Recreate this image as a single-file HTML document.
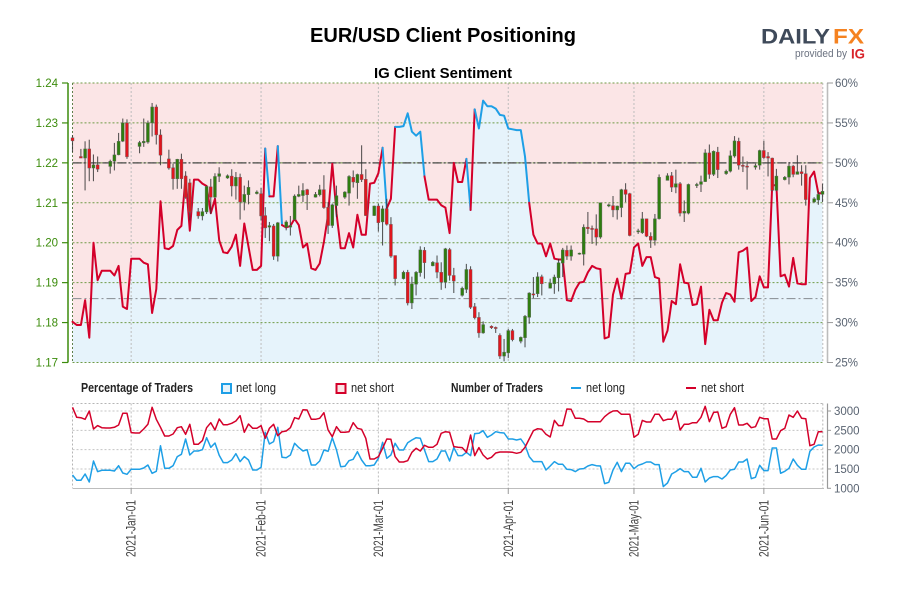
<!DOCTYPE html>
<html lang="en">
<head>
<meta charset="utf-8">
<title>EUR/USD Client Positioning</title>
<style>
html,body{margin:0;padding:0;background:#fff;width:900px;height:600px;overflow:hidden}
svg{display:block;font-family:"Liberation Sans",sans-serif}
</style>
</head>
<body>
<svg id="chart" xmlns="http://www.w3.org/2000/svg" width="900" height="600" viewBox="0 0 900 600">
  <rect x="0" y="0" width="900" height="600" fill="#ffffff"/>
  <text x="310" y="42" font-size="20" font-weight="bold" fill="#000" textLength="266" lengthAdjust="spacingAndGlyphs">EUR/USD Client Positioning</text>
  <text x="374" y="78" font-size="15" font-weight="bold" fill="#000" textLength="138" lengthAdjust="spacingAndGlyphs">IG Client Sentiment</text>

  <g>
    <text x="761" y="43.5" font-size="21.5" font-weight="bold" fill="#3f4a5a" textLength="69" lengthAdjust="spacingAndGlyphs">DAILY</text>
    <text x="833" y="43.5" font-size="21.5" font-weight="bold" fill="#f58220" textLength="31" lengthAdjust="spacingAndGlyphs">FX</text>
    <text x="795" y="57" font-size="11" fill="#6b7280" textLength="52" lengthAdjust="spacingAndGlyphs">provided by</text>
    <text x="851" y="58.5" font-size="13.5" font-weight="bold" fill="#d8232a" textLength="14" lengthAdjust="spacingAndGlyphs">IG</text>
  </g>

  <g id="main-panel"></g>
  <g id="lower-panel"></g>

  <g font-size="12.5" fill="#222">
    <text x="81" y="392" font-weight="bold" textLength="112" lengthAdjust="spacingAndGlyphs">Percentage of Traders</text>
    <rect x="222" y="384" width="9" height="9" fill="#e6f3fb" stroke="#1e9fe6" stroke-width="2"/>
    <text x="236" y="392" textLength="40" lengthAdjust="spacingAndGlyphs">net long</text>
    <rect x="336.5" y="384" width="9" height="9" fill="#fbe5e6" stroke="#d4002a" stroke-width="2"/>
    <text x="351" y="392" textLength="43" lengthAdjust="spacingAndGlyphs">net short</text>
    <text x="451" y="392" font-weight="bold" textLength="92" lengthAdjust="spacingAndGlyphs">Number of Traders</text>
    <line x1="571" y1="388" x2="581" y2="388" stroke="#1e9fe6" stroke-width="2"/>
    <text x="586" y="392" textLength="39" lengthAdjust="spacingAndGlyphs">net long</text>
    <line x1="686" y1="388" x2="696" y2="388" stroke="#d4002a" stroke-width="2"/>
    <text x="701" y="392" textLength="43" lengthAdjust="spacingAndGlyphs">net short</text>
  </g>
</svg>
<script>
/* ---- data: one value per calendar day starting 2020-12-18 ---- */
const pctLong = [
30.1,29.7,29.7,32.8,28.1,40.0,35.3,36.5,36.5,36.5,
35.9,37.1,32.0,31.7,38.0,38.0,38.0,37.5,37.3,31.2,
34.2,45.2,39.3,39.2,39.6,41.6,42.1,48.3,41.5,47.9,
47.9,47.4,47.1,43.7,45.5,40.3,38.8,38.7,39.5,41.0,
37.1,42.4,39.5,36.6,36.6,37.1,51.8,45.8,45.8,52.1,
42.2,41.9,42.1,43.0,42.2,39.4,39.9,36.8,36.6,37.4,
40.1,43.5,49.9,43.7,39.3,39.3,41.2,39.4,43.5,41.0,
41.0,47.4,47.5,48.7,51.9,44.3,45.5,54.5,54.5,54.6,
56.2,53.9,53.4,53.9,48.3,45.4,45.4,45.4,44.7,44.4,
41.2,50.0,47.6,47.6,50.5,44.1,56.7,54.3,57.8,57.1,
57.1,56.8,56.0,55.9,54.3,54.2,54.1,54.1,50.8,45.0,
41.0,39.9,39.9,38.3,39.9,38.0,37.9,37.9,32.8,32.7,
34.1,35.0,35.1,36.3,37.1,36.8,36.7,28.0,28.2,33.5,
35.5,33.0,36.1,36.2,39.4,39.9,37.1,38.2,38.2,35.7,
35.5,27.6,29.0,32.7,32.3,37.3,35.0,34.9,32.2,32.3,
34.5,27.3,31.6,30.3,30.3,32.5,33.7,33.5,32.6,38.8,
39.0,39.4,32.7,33.2,35.8,34.4,34.4,47.2,47.2,35.8,
36.0,34.5,38.1,34.9,34.8,34.8,48.1,48.9,46.2,46.2];

const netLong = [
1345,1207,1207,1371,1164,1707,1431,1465,1465,1465,
1448,1586,1397,1362,1491,1491,1491,1526,1603,1388,
1440,2103,1517,1517,1586,1819,1879,2276,1862,1965,
1965,2000,2310,2060,2172,1853,1664,1664,1733,1896,
1690,1819,1733,1474,1474,1543,2448,2146,2207,2577,
1802,1793,1862,2164,2052,1965,2000,1603,1603,1707,
1991,1957,2310,1991,1560,1569,1715,1750,1948,1733,
1586,1586,1603,1776,2190,1776,1862,2164,1991,1991,
2181,2250,2310,2293,1991,1690,1690,1759,1965,1965,
1707,2052,1845,1845,1931,1845,2414,2422,2491,2319,
2379,2465,2440,2431,2276,2276,2250,2276,2121,1819,
1690,1690,1690,1474,1578,1690,1621,1621,1491,1483,
1431,1500,1509,1578,1612,1586,1578,1121,1155,1474,
1672,1431,1647,1647,1509,1595,1629,1681,1681,1612,
1612,1043,1138,1371,1431,1509,1431,1431,1284,1284,
1517,1164,1267,1302,1302,1241,1328,1474,1491,1681,
1681,1759,1250,1284,1595,1457,1457,2043,2043,1388,
1440,1517,1759,1595,1491,1491,1957,2069,2121,2112];

const netShort = [
3095,2836,2827,2784,3000,2534,2621,2569,2560,2560,
2577,2638,2940,2940,2440,2431,2431,2534,2655,3095,
2784,2577,2353,2353,2405,2569,2595,2396,2655,2138,
2138,2233,2569,2698,2508,2793,2646,2646,2681,2741,
2879,2448,2664,2552,2552,2621,2293,2552,2655,2362,
2465,2483,2569,2827,2793,3034,3026,2784,2784,2810,
2957,2508,2336,2595,2448,2448,2465,2698,2552,2526,
2293,1759,1759,1819,2034,2276,2267,1819,1681,1681,
1715,1931,2034,1965,2112,2060,2060,2138,2422,2465,
2448,2078,2060,2052,1931,2379,1845,2052,1862,1759,
1802,1914,1940,1940,1940,1931,1905,1931,2060,2276,
2491,2543,2526,2396,2327,2758,2621,2621,3052,3043,
2810,2810,2793,2724,2724,2724,2724,2853,2940,3000,
3008,2914,2914,2914,2319,2396,2758,2715,2715,2914,
2914,2750,2784,2784,3000,2508,2655,2655,2698,2698,
2836,3121,2724,2965,2974,2552,2595,2914,3086,2638,
2638,2681,2569,2595,2836,2802,2802,2276,2276,2491,
2552,2896,2836,3000,2810,2802,2103,2138,2465,2465];

const candleDays = [
0,2,3,4,5,6, 9,10,11,12,13, 16,17,18,19,20,21, 23,24,25,26,27,28, 30,31,32,33,34,35,
37,38,39,40,41,42, 44,45,46,47,48,49, 51,52,53,54,55,56, 58,59,60,61,62,63,
65,66,67,68,69,70, 72,73,74,75,76,77, 79,80,81,82,83,84, 86,87,88,89,90,91,
93,94,95,96,97,98, 100,101,102,103,104,105, 107,108,109,110,111,112, 114,115,116,117,118,119,
121,122,123,124,125,126, 128,129,130,131,132,133, 135,136,137,138,139,140,
142,143,144,145,146,147, 149,150,151,152,153,154, 156,157,158,159,160,161,
163,164,165,166,167,168, 170,171,172,173,174,175, 177,178,179];

const opens = [
1.2263,1.2216,1.2212,1.2235,1.2187,1.2195, 1.2191,1.2204,1.2220,1.2254,1.2300,
1.2241,1.2250,1.2252,1.2300,1.2340,1.2270, 1.2210,1.2188,1.2160,1.2209,1.2167,1.2150,
1.2078,1.2067,1.2077,1.2140,1.2114,1.2166, 1.2162,1.2167,1.2142,1.2164,1.2102,1.2120,
1.2123,1.2123,1.2068,1.2039,1.2042,1.1966, 1.2039,1.2039,1.2058,1.2116,1.2118,1.2133,
1.2114,1.2120,1.2133,1.2089,1.2043,1.2093, 1.2114,1.2124,1.2164,1.2150,1.2171,1.2159,
1.2068,1.2092,1.2052,1.2085,1.2046,1.1968, 1.1910,1.1926,1.1849,1.1896,1.1925,1.1981,
1.1942,1.1950,1.1926,1.1901,1.1983,1.1918, 1.1868,1.1883,1.1933,1.1840,1.1813,1.1774,
1.1791,1.1788,1.1768,1.1716,1.1724,1.1780, 1.1753,1.1762,1.1813,1.1872,1.1872,1.1915,
1.1886,1.1897,1.1912,1.1949,1.1981,1.1966, 1.1971,1.1971,1.2039,1.2036,1.2035,1.2014,
1.2092,1.2093,1.2082,1.2088,1.2133,1.2123, 1.2027,1.2025,1.2060,1.2016,1.2006,1.2060,
1.2156,1.2168,1.2139,1.2148,1.2074,1.2074, 1.2143,1.2146,1.2153,1.2225,1.2171,1.2227,
1.2173,1.2179,1.2217,1.2254,1.2194,1.2192, 1.2189,1.2194,1.2231,1.2216,1.2212,1.2131,
1.2158,1.2164,1.2192,1.2171,1.2178,1.2173, 1.2102,1.2107,1.2121];

const highs = [
1.2269,1.2235,1.2254,1.2258,1.2221,1.2216, 1.2208,1.2250,1.2275,1.2311,1.2309,
1.2255,1.2311,1.2306,1.2350,1.2346,1.2284, 1.2233,1.2198,1.2210,1.2223,1.2179,1.2160,
1.2087,1.2087,1.2143,1.2160,1.2174,1.2189, 1.2171,1.2184,1.2177,1.2173,1.2143,1.2156,
1.2131,1.2137,1.2089,1.2052,1.2047,1.2052, 1.2056,1.2067,1.2121,1.2143,1.2149,1.2135,
1.2127,1.2145,1.2169,1.2102,1.2098,1.2143, 1.2129,1.2169,1.2181,1.2173,1.2244,1.2184,
1.2093,1.2098,1.2093,1.2110,1.2064,1.1968, 1.1930,1.1932,1.1915,1.1929,1.1991,1.1989,
1.1954,1.1968,1.1951,1.1987,1.1987,1.1937, 1.1890,1.1947,1.1941,1.1849,1.1826,1.1803,
1.1793,1.1790,1.1773,1.1759,1.1784,1.1784, 1.1765,1.1819,1.1876,1.1914,1.1926,1.1920,
1.1910,1.1920,1.1960,1.1987,1.1993,1.1993, 1.1975,1.2046,1.2077,1.2043,1.2071,1.2100,
1.2098,1.2117,1.2093,1.2135,1.2149,1.2125, 1.2035,1.2077,1.2060,1.2026,1.2072,1.2171,
1.2174,1.2177,1.2183,1.2152,1.2106,1.2148, 1.2150,1.2168,1.2234,1.2246,1.2231,1.2240,
1.2183,1.2231,1.2267,1.2263,1.2216,1.2204, 1.2198,1.2233,1.2255,1.2227,1.2213,1.2185,
1.2167,1.2202,1.2195,1.2219,1.2194,1.2194, 1.2114,1.2129,1.2148];

const lows = [
1.2227,1.2212,1.2131,1.2154,1.2154,1.2177, 1.2173,1.2181,1.2219,1.2252,1.2210,
1.2224,1.2240,1.2248,1.2266,1.2246,1.2194, 1.2183,1.2133,1.2135,1.2135,1.2110,1.2056,
1.2060,1.2056,1.2072,1.2072,1.2110,1.2152, 1.2160,1.2116,1.2108,1.2058,1.2081,1.2096,
1.2121,1.2056,1.2012,1.2004,1.1957,1.1953, 1.2031,1.2018,1.2056,1.2114,1.2102,1.2082,
1.2113,1.2116,1.2085,1.2022,1.2037,1.2064, 1.2110,1.2093,1.2138,1.2110,1.2152,1.2067,
1.2067,1.2028,1.1993,1.2043,1.1962,1.1893, 1.1908,1.1843,1.1834,1.1868,1.1915,1.1910,
1.1941,1.1911,1.1882,1.1886,1.1905,1.1874, 1.1865,1.1874,1.1834,1.1808,1.1762,1.1772,
1.1784,1.1774,1.1709,1.1703,1.1711,1.1753, 1.1748,1.1738,1.1797,1.1861,1.1864,1.1868,
1.1885,1.1872,1.1878,1.1914,1.1957,1.1955, 1.1970,1.1943,1.2022,1.1997,1.1993,1.2010,
1.2089,1.2064,1.2058,1.2064,1.2102,1.2016, 1.2022,1.2022,1.2014,1.1987,1.1993,1.2058,
1.2156,1.2127,1.2124,1.2066,1.2052,1.2071, 1.2137,1.2127,1.2152,1.2160,1.2167,1.2162,
1.2170,1.2176,1.2213,1.2183,1.2177,1.2133, 1.2183,1.2183,1.2210,1.2166,1.2129,1.2129,
1.2156,1.2146,1.2164,1.2171,1.2143,1.2093, 1.2100,1.2095,1.2102];

const closes = [
1.2255,1.2212,1.2235,1.2187,1.2195,1.2184, 1.2204,1.2220,1.2254,1.2300,1.2215,
1.2251,1.2254,1.2300,1.2340,1.2270,1.2219, 1.2187,1.2160,1.2209,1.2160,1.2113,1.2077,
1.2067,1.2078,1.2141,1.2114,1.2166,1.2173, 1.2168,1.2142,1.2164,1.2102,1.2121,1.2139,
1.2127,1.2067,1.2037,1.2043,1.1966,1.2050, 1.2052,1.2043,1.2117,1.2121,1.2131,1.2120,
1.2121,1.2133,1.2088,1.2043,1.2095,1.2118, 1.2127,1.2166,1.2152,1.2171,1.2158,1.2068,
1.2092,1.2050,1.2085,1.2046,1.1966,1.1910, 1.1926,1.1849,1.1897,1.1926,1.1982,1.1950,
1.1951,1.1926,1.1901,1.1985,1.1918,1.1904, 1.1886,1.1933,1.1838,1.1812,1.1774,1.1795,
1.1787,1.1787,1.1716,1.1726,1.1780,1.1757, 1.1763,1.1816,1.1874,1.1869,1.1915,1.1897,
1.1899,1.1914,1.1950,1.1982,1.1966,1.1982, 1.1974,1.2039,1.2035,1.2035,1.2014,1.2100,
1.2095,1.2082,1.2092,1.2133,1.2121,1.2018, 1.2030,1.2060,1.2016,1.2006,1.2060,1.2164,
1.2168,1.2139,1.2148,1.2074,1.2079,1.2146, 1.2146,1.2153,1.2225,1.2171,1.2229,1.2183,
1.2179,1.2218,1.2255,1.2194,1.2191,1.2190, 1.2193,1.2231,1.2213,1.2212,1.2131,1.2167,
1.2164,1.2192,1.2171,1.2178,1.2173,1.2108, 1.2110,1.2121,1.2129];

const priceTicks = [1.24,1.23,1.22,1.21,1.20,1.19,1.18,1.17];
const pctTicks = [60,55,50,45,40,35,30,25];
const countTicks = [3000,2500,2000,1500,1000];
const tickLabels = ['2021-Jan-01','2021-Feb-01','2021-Mar-01','2021-Apr-01','2021-May-01','2021-Jun-01'];
const tickDays = [14,45,73,104,134,165];
const currentPrice = 1.186;
const neutralPct = 50;

/* ---- axis functions ---- */
const LEFT = 72.5, DAY = 4.19, TOP = 83, BOTTOM = 362.5, RIGHT = 822.5;
const xDay = d => LEFT + d * DAY;
const yPrice = p => TOP + (1.24 - p) * (BOTTOM - TOP) / 0.07;
const yPct = v => TOP + (60 - v) * (BOTTOM - TOP) / 35;
const yCount = v => 488.3 - (v - 1000) * 0.03865;

const NS = 'http://www.w3.org/2000/svg';
function mk(parent, tag, attrs) {
  const e = document.createElementNS(NS, tag);
  for (const k in attrs) e.setAttribute(k, attrs[k]);
  parent.appendChild(e);
  return e;
}
const main = document.getElementById('main-panel');
const lower = document.getElementById('lower-panel');

/* sentiment area fills */
const linePts = pctLong.map((v, i) => xDay(i).toFixed(1) + ',' + yPct(v).toFixed(1)).join(' L');
const pinkArea = mk(main, 'path', {d: 'M' + linePts + ' L' + RIGHT + ',' + TOP + ' L' + LEFT + ',' + TOP + ' Z', fill: '#fbe5e6'});


const blueArea = mk(main, 'path', {d: 'M' + linePts + ' L' + RIGHT + ',' + BOTTOM + ' L' + LEFT + ',' + BOTTOM + ' Z', fill: '#e6f3fb'});



/* vertical date grid, both panels */
tickDays.forEach(d => {
  const x = xDay(d);
  const v1 = mk(main, 'line', {x1: x, y1: TOP, x2: x, y2: BOTTOM, stroke: '#bdbdbd', 'stroke-width': 1, 'stroke-dasharray': '2 2'});
  
  
  const v2 = mk(lower, 'line', {x1: x, y1: 403.5, x2: x, y2: 488, stroke: '#bdbdbd', 'stroke-width': 1, 'stroke-dasharray': '2 2'});
  
  
});

/* horizontal price grid, left axis */
const leftAxis = mk(main, 'line', {x1: 68, y1: TOP, x2: 68, y2: BOTTOM, stroke: '#3c8c0c', 'stroke-width': 1.5});


priceTicks.forEach(p => {
  const y = yPrice(p);
  const g = mk(main, 'line', {x1: LEFT, y1: y, x2: RIGHT, y2: y, stroke: '#6f9a45', 'stroke-width': 1, 'stroke-dasharray': '2 2'});
  
  
  const t = mk(main, 'line', {x1: 62, y1: y, x2: 68, y2: y, stroke: '#3c8c0c', 'stroke-width': 1.2});
  
  
  const l = mk(main, 'text', {x: 58, y: y + 4, 'text-anchor': 'end', 'font-size': 11.5, fill: '#3c8c0c'});
  l.textContent = p.toFixed(2);
  
  
});

/* panel borders */
const leftBorder = mk(main, 'line', {x1: LEFT, y1: TOP, x2: LEFT, y2: BOTTOM, stroke: '#5f7f4a', 'stroke-width': 1, 'stroke-dasharray': '2 2'});


const rightBorder = mk(main, 'line', {x1: RIGHT + 0.3, y1: TOP, x2: RIGHT + 0.3, y2: BOTTOM, stroke: '#bdbdbd', 'stroke-width': 1, 'stroke-dasharray': '2 2'});



/* reference lines */
const neutralLine = mk(main, 'line', {x1: LEFT, y1: yPct(neutralPct), x2: RIGHT, y2: yPct(neutralPct), stroke: '#555', 'stroke-width': 1.5, 'stroke-dasharray': '9 2 2 2', opacity: 0.9});


const priceLine = mk(main, 'line', {x1: LEFT, y1: yPrice(currentPrice), x2: RIGHT, y2: yPrice(currentPrice), stroke: '#858b90', 'stroke-width': 1, 'stroke-dasharray': '9 3 2 3'});



/* right percent axis */
const rightAxis = mk(main, 'line', {x1: 827.5, y1: TOP, x2: 827.5, y2: BOTTOM, stroke: '#bcbcbc', 'stroke-width': 1.6});


pctTicks.forEach(v => {
  const y = yPct(v);
  const t = mk(main, 'line', {x1: 827, y1: y, x2: 833, y2: y, stroke: '#9a9a9a', 'stroke-width': 1});
  
  
  const l = mk(main, 'text', {x: 835, y: y + 4, 'font-size': 11.5, fill: '#5a6472'});
  l.textContent = v + '%';
  
  
});

/* sentiment line: a segment is blue when it starts above 50%, otherwise red */
function isLongSeg(i) { return pctLong[i] > neutralPct; }
let runStart = 0;
for (let i = 1; i < pctLong.length; i++) {
  if (i === pctLong.length - 1 || isLongSeg(i) !== isLongSeg(runStart)) {
    const pts = [];
    for (let j = runStart; j <= i; j++) pts.push(xDay(j).toFixed(1) + ',' + yPct(pctLong[j]).toFixed(1));
    const seg = mk(main, 'polyline', {points: pts.join(' '), fill: 'none', stroke: isLongSeg(runStart) ? '#1e9fe6' : '#d4002a', 'stroke-width': 2, 'stroke-linejoin': 'round', 'stroke-linecap': 'round'});
    
    
    runStart = i;
  }
}

/* candles */
candleDays.forEach((d, i) => {
  const x = xDay(d);
  const up = closes[i] >= opens[i];
  const wick = mk(main, 'line', {x1: x, y1: yPrice(highs[i]), x2: x, y2: yPrice(lows[i]), stroke: '#333', 'stroke-width': 1.1, opacity: 0.8});
  
  
  const top = yPrice(Math.max(opens[i], closes[i]));
  const bot = yPrice(Math.min(opens[i], closes[i]));
  const body = mk(main, 'rect', {x: x - 1.5, y: top, width: 3, height: Math.max(bot - top, 1.2), fill: up ? '#2f7d10' : '#e0161e', stroke: '#666', 'stroke-width': 0.4});
  
  
});

/* lower panel frame */
const lowTop = mk(lower, 'line', {x1: LEFT, y1: 403.5, x2: RIGHT, y2: 403.5, stroke: '#b5b5b5', 'stroke-width': 1, 'stroke-dasharray': '2 2'});


const lowLeft = mk(lower, 'line', {x1: LEFT, y1: 403.5, x2: LEFT, y2: 488, stroke: '#b5b5b5', 'stroke-width': 1, 'stroke-dasharray': '2 2'});


const lowRight = mk(lower, 'line', {x1: RIGHT + 0.3, y1: 403.5, x2: RIGHT + 0.3, y2: 488, stroke: '#b5b5b5', 'stroke-width': 1, 'stroke-dasharray': '2 2'});


const lowBottom = mk(lower, 'line', {x1: LEFT, y1: 488.5, x2: 824, y2: 488.5, stroke: '#bdbdbd', 'stroke-width': 1});


const lowAxis = mk(lower, 'line', {x1: 827.5, y1: 403.5, x2: 827.5, y2: 488.5, stroke: '#9a9a9a', 'stroke-width': 1.2});



countTicks.forEach(v => {
  const y = yCount(v);
  if (v > 1000) {
    const g = mk(lower, 'line', {x1: LEFT, y1: y, x2: RIGHT, y2: y, stroke: '#c4c4c4', 'stroke-width': 1, 'stroke-dasharray': '2 2'});
    
    
  }
  const t = mk(lower, 'line', {x1: 827, y1: y, x2: 831, y2: y, stroke: '#9a9a9a', 'stroke-width': 1});
  
  
  const l = mk(lower, 'text', {x: 834, y: y + 4, 'font-size': 11.5, fill: '#5a6472'});
  l.textContent = v;
  
  
});

/* lower-panel series */
function countPoints(arr) { return arr.map((v, i) => xDay(i).toFixed(1) + ',' + yCount(v).toFixed(1)).join(' '); }
const longLine = mk(lower, 'polyline', {points: countPoints(netLong), fill: 'none', stroke: '#1e9fe6', 'stroke-width': 1.5, 'stroke-linejoin': 'round'});


const shortLine = mk(lower, 'polyline', {points: countPoints(netShort), fill: 'none', stroke: '#d4002a', 'stroke-width': 1.5, 'stroke-linejoin': 'round'});



/* date ticks and labels */
tickDays.forEach((d, i) => {
  const x = xDay(d);
  const t = mk(lower, 'line', {x1: x, y1: 488, x2: x, y2: 494, stroke: '#9a9a9a', 'stroke-width': 1});
  
  
  const l = mk(lower, 'text', {transform: 'translate(' + (x + 4.5) + ',557) rotate(-90)', 'font-size': 13.5, fill: '#444', textLength: 57, lengthAdjust: 'spacingAndGlyphs'});
  l.textContent = tickLabels[i];
  
  
});
</script>
</body>
</html>
